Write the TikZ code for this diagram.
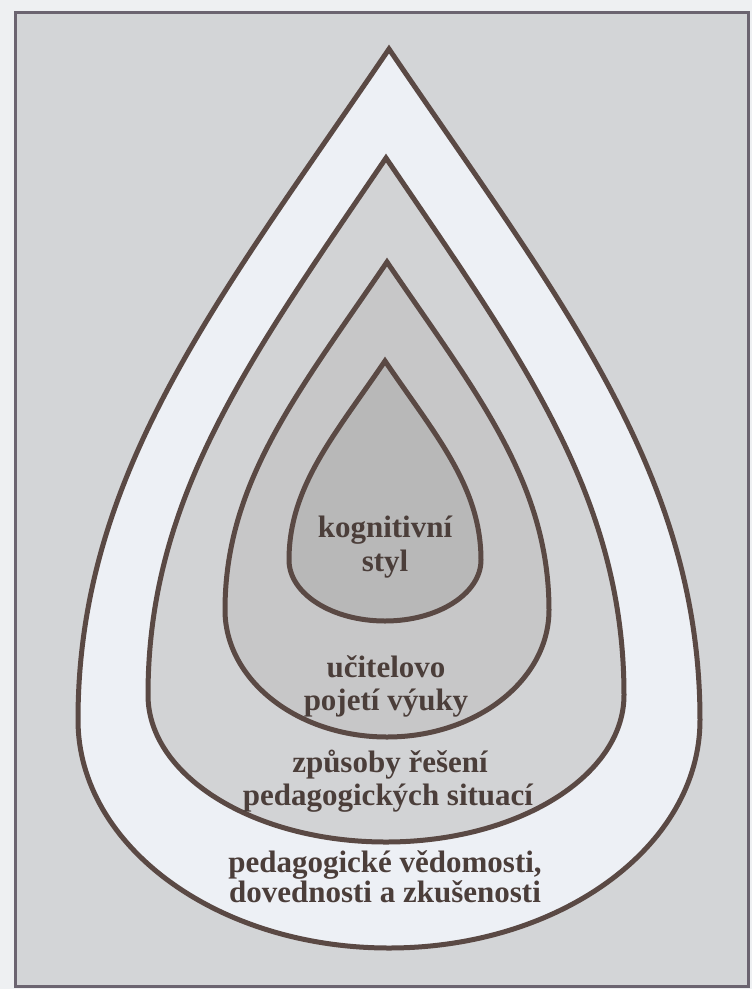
\documentclass[tikz,border=0pt]{standalone}
\usepackage{fontspec}
\setmainfont{Liberation Serif}
\definecolor{paper}{HTML}{EEF0F2}
\definecolor{bgrey}{HTML}{D3D5D7}
\definecolor{dropA}{HTML}{EDF0F5}
\definecolor{dropB}{HTML}{D2D3D5}
\definecolor{dropC}{HTML}{C7C7C8}
\definecolor{dropD}{HTML}{B8B8B8}
\definecolor{lineb}{HTML}{5A4944}
\definecolor{framec}{HTML}{6B6470}
\definecolor{txt}{HTML}{4B3E3A}
\newcommand\tdrop[6]{%
  \pgfmathsetmacro\tdd{0.37*(#3-#2)}%
  \draw[drop, fill=#6] (#1,#2)
    .. controls ({#1+0.68*\tdd},{#2+\tdd}) and ({#1+#4},{#3-\tdd}) .. ({#1+#4},#3)
    .. controls ({#1+#4},{#3+0.552*(#5-#3)}) and ({#1+0.552*#4},#5) .. (#1,#5)
    .. controls ({#1-0.552*#4},#5) and ({#1-#4},{#3+0.552*(#5-#3)}) .. ({#1-#4},#3)
    .. controls ({#1-#4},{#3-\tdd}) and ({#1-0.68*\tdd},{#2+\tdd}) .. cycle;
}
\begin{document}
\begin{tikzpicture}[x=1pt,y=-1pt,
  drop/.style={draw=lineb, line width=5pt, line join=miter, miter limit=20},
  lbl/.style={text=txt, font=\bfseries\fontsize{31}{34}\selectfont, anchor=base,
    inner sep=0pt, text height=21pt, text depth=6pt}]
\useasboundingbox (0,0) rectangle (752,989);
\fill[paper] (0,0) rectangle (752,989);
\draw[framec, line width=3pt, fill=bgrey] (15,12) rectangle (748,986);
\tdrop{389}{49}{720}{311}{948}{dropA}
\tdrop{386}{158}{695}{238}{842}{dropB}
\tdrop{387}{262}{610}{162}{737}{dropC}
\tdrop{385}{361}{560}{96}{621}{dropD}
\node[lbl] (k1) at (385,537) {kognitivní};
\node[lbl] (k2) at (385,571) {styl};
\node[lbl] (u1) at (386,677) {učitelovo};
\node[lbl] (u2) at (386,710) {pojetí výuky};
\node[lbl] (z1) at (390,772) {způsoby řešení};
\node[lbl] (z2) at (388,805) {pedagogických situací};
\node[lbl] (p1) at (385,872) {pedagogické vědomosti,};
\node[lbl] (p2) at (385,902) {dovednosti a zkušenosti};
\end{tikzpicture}
\end{document}
